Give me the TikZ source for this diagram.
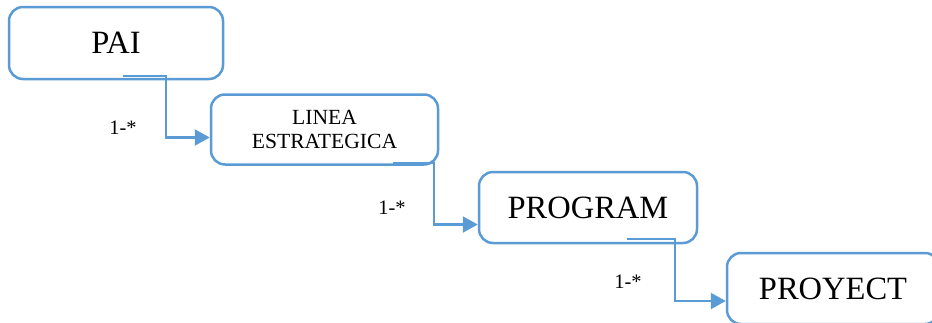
\documentclass[tikz,border=0pt]{standalone}
\usepackage{fontspec}
\setmainfont{Liberation Serif}
\usetikzlibrary{arrows.meta}
\definecolor{boxblue}{RGB}{91,155,213}
\tikzset{
  box/.style={draw=boxblue, line width=2.5pt, rounded corners=14pt, inner sep=0pt, align=center},
  bigtext/.style={font=\fontsize{32.5}{36}\selectfont},
  smalltext/.style={font=\fontsize{21.6}{24}\selectfont},
  conn/.style={draw=boxblue, line width=2.2pt, -{Triangle[length=15pt,width=16pt]}},
  mult/.style={font=\fontsize{20.5}{22}\selectfont, inner sep=0pt}
}
\begin{document}
\begin{tikzpicture}[x=1pt,y=-1pt]
\clip (0,0) rectangle (932,322);
\fill[white] (0,0) rectangle (932,322);
\node[box,bigtext,minimum width=214pt,minimum height=72pt] (pai) at (116,43) {PAI};
\node[box,smalltext,minimum width=227pt,minimum height=70pt] (lin) at (324.5,129.5) {LINEA\\ESTRATEGICA};
\node[box,bigtext,minimum width=218pt,minimum height=71pt] (prog) at (588,207.5) {PROGRAM};
\node[box,bigtext,minimum width=212pt,minimum height=71pt] (proy) at (833,288.5) {PROYECT};
\coordinate (s1) at ([xshift=7pt,yshift=4pt]pai.south);
\coordinate (e1) at ([yshift=-8pt]lin.west);
\coordinate (s2) at ([xshift=68pt,yshift=3pt]lin.south);
\coordinate (e2) at ([yshift=-17pt]prog.west);
\coordinate (s3) at ([xshift=39pt,yshift=5pt]prog.south);
\coordinate (e3) at ([yshift=-12.5pt]proy.west);
\draw[conn] (s1) -| ([xshift=-44pt]e1) -- (e1);
\draw[conn] (s2) -| ([xshift=-44pt]e2) -- (e2);
\draw[conn] (s3) -| ([xshift=-51pt]e3) -- (e3);
\node[mult] (m1) at (123,128) {1-*};
\node[mult] (m2) at (392,208) {1-*};
\node[mult] (m3) at (628,282) {1-*};
\end{tikzpicture}
\end{document}
